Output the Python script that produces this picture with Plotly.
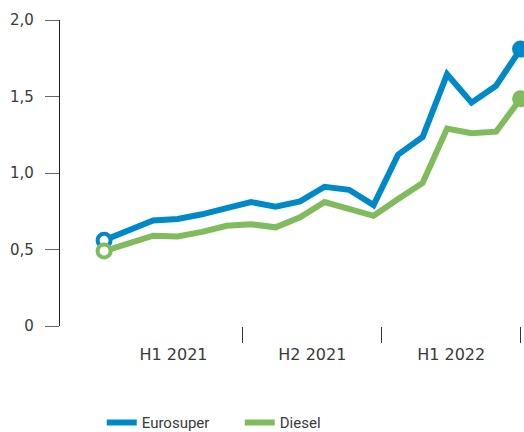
import plotly.graph_objects as go

months = list(range(18))  # Jan 2021 .. Jun 2022 (monthly)
eurosuper = [0.56, 0.625, 0.69, 0.70, 0.73, 0.77, 0.81, 0.78, 0.815, 0.91, 0.89, 0.79,
             1.12, 1.235, 1.645, 1.46, 1.57, 1.81]
diesel = [0.49, 0.545, 0.59, 0.585, 0.615, 0.655, 0.665, 0.645, 0.71, 0.81, 0.77, 0.72,
          0.83, 0.935, 1.29, 1.26, 1.27, 1.485]
period_labels = ["H1 2021", "H2 2021", "H1 2022"]
period_label_pos = [0.5, 1.5, 2.5]
period_bounds = [1, 2, 3]
y_ticks = [0, 0.5, 1.0, 1.5, 2.0]
y_tick_text = ["0", "0,5", "1,0", "1,5", "2,0"]

BLUE = "#0089c7"
GREEN = "#80bb5e"
TXT = "#3a3a3a"

x_range = [-1.8, 17.14]
n = len(months) - 1
hy_range = [r * 3 / n for r in x_range]

fig = go.Figure()
for name, vals, col in [("Eurosuper", eurosuper, BLUE), ("Diesel", diesel, GREEN)]:
    fig.add_trace(go.Scatter(x=months, y=vals, mode="lines", name=name,
                             line=dict(color=col, width=6), showlegend=True))
    fig.add_trace(go.Scatter(x=[months[0]], y=[vals[0]], mode="markers", showlegend=False,
                             marker=dict(size=13, color="white", line=dict(color=col, width=4))))
    fig.add_trace(go.Scatter(x=[months[-1]], y=[vals[-1]], mode="markers", showlegend=False,
                             marker=dict(size=17, color=col, line=dict(width=0))))

# invisible helper traces for period axes
fig.add_trace(go.Scatter(x=period_bounds, y=[0, 0, 0], xaxis="x2", mode="markers",
                         marker=dict(opacity=0), showlegend=False, hoverinfo="skip"))
fig.add_trace(go.Scatter(x=period_label_pos, y=[0, 0, 0], xaxis="x3", mode="markers",
                         marker=dict(opacity=0), showlegend=False, hoverinfo="skip"))

fig.update_layout(
    width=524, height=432,
    margin=dict(l=60, r=0, t=20, b=106, autoexpand=False),
    paper_bgcolor="white", plot_bgcolor="white",
    font=dict(family="DejaVu Sans", size=15, color=TXT),
    xaxis=dict(range=x_range, visible=False, fixedrange=True, automargin=False),
    xaxis2=dict(overlaying="x", anchor="y", range=hy_range, tickmode="array",
                tickvals=period_bounds, ticktext=["", "", ""], ticks="outside",
                ticklen=16, tickwidth=1.3, tickcolor="#333", showgrid=False,
                showline=False, zeroline=False, automargin=False),
    xaxis3=dict(overlaying="x", anchor="y", range=hy_range, tickmode="array",
                tickvals=period_label_pos, ticktext=period_labels, ticks="",
                ticklen=0, showgrid=False, showline=False, zeroline=False,
                ticklabelstandoff=17, automargin=False,
                tickfont=dict(family="DejaVu Sans", size=16, color=TXT)),
    yaxis=dict(range=[0, 2], tickmode="array", tickvals=y_ticks, ticktext=y_tick_text,
               ticks="outside", ticklen=14, tickwidth=1.3, tickcolor="#666",
               showline=True, linecolor="#222", linewidth=1.3, showgrid=False,
               zeroline=False, ticklabelstandoff=8, automargin=False,
               tickfont=dict(family="DejaVu Sans", size=15, color=TXT)),
    legend=dict(orientation="h", x=0.09, xanchor="left", y=-0.262, yanchor="top",
                font=dict(family="Roboto", size=15, color=TXT),
                entrywidth=93, itemwidth=30),
    showlegend=True,
)

fig.write_html("out.html", config={"displayModeBar": False},
               post_script="document.body.style.margin='0';document.body.style.overflow='hidden';")
